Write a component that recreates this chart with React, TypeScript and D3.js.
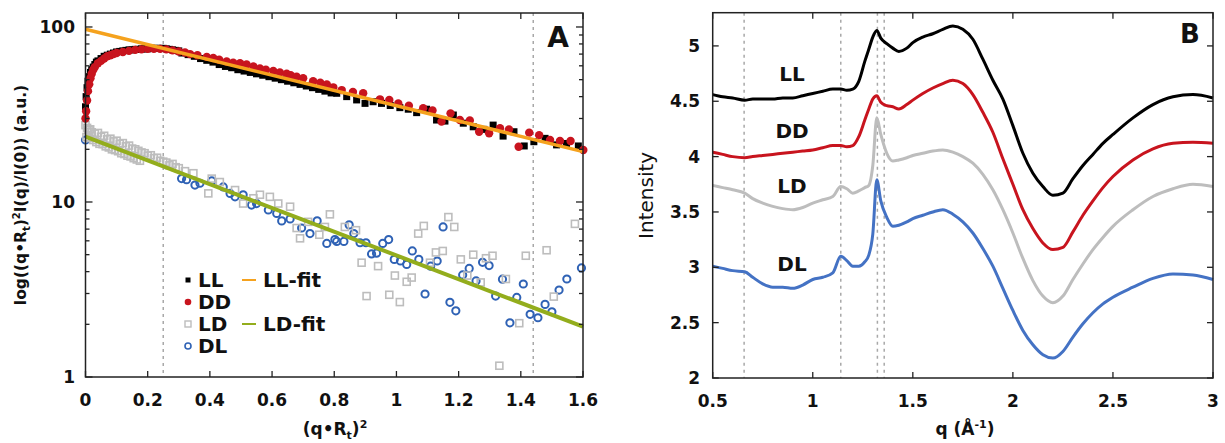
import React from 'react';
import * as d3 from 'd3';

// ---------- Panel A data ----------
const LL_x = [0,0.002,0.005,0.008,0.012,0.016,0.02,0.025,0.03,0.035,0.04,0.05,0.06,0.07,0.08,0.09,0.10,0.11,0.12,0.13,0.14,0.15,0.16,0.17,0.18,0.19,0.20,0.21,0.22,0.23,0.24,0.25,0.26,0.27,0.28,0.29,0.30,0.31,0.33,0.35,0.37,0.39,0.41,0.43,0.45,0.47,0.49,0.51,0.53,0.55,0.57,0.59,0.61,0.63,0.65,0.67,0.69,0.71,0.73,0.75,0.77,0.79,0.808,0.84,0.872,0.899,0.925,0.952,0.98,1.011,1.038,1.065,1.097,1.129,1.156,1.183,1.215,1.247,1.281,1.311,1.343,1.378,1.411,1.442,1.478,1.515,1.547,1.585];
const LL_y = [35,40,45,49,52,55,57,59,61,63,64,66,68,69,70,71,72,72.5,73,73.5,74,74,74.5,74.5,75,75,75,75.5,75.5,75.5,75.5,75.5,75,74.5,74,73.5,73,71,69.5,68,66,64.5,63,61,59.5,58.5,57,56,55,54,53,52,51,50,49,48,47,46,45,44,43,42,41.8,40,38.3,36.6,37.4,36.6,35.6,34.6,33.9,32.4,33.9,29.4,29.0,31.4,28.2,26.9,26.0,27.5,23.8,25.2,20.9,22.1,23.1,21.2,21.6,20.9];

const DD_x = [0,0.002,0.005,0.008,0.012,0.016,0.02,0.025,0.03,0.04,0.05,0.06,0.07,0.08,0.09,0.10,0.12,0.14,0.16,0.18,0.20,0.22,0.24,0.26,0.28,0.30,0.32,0.336,0.36,0.39,0.411,0.43,0.454,0.475,0.497,0.518,0.54,0.561,0.58,0.604,0.625,0.647,0.66,0.679,0.70,0.732,0.755,0.776,0.797,0.824,0.86,0.893,0.947,0.977,1.006,1.04,1.086,1.116,1.145,1.174,1.204,1.236,1.266,1.298,1.333,1.362,1.393,1.427,1.459,1.494,1.526,1.56,1.601];
const DD_y = [30,33,38,43,47,51,54,57,59,62,64,66,68,69,70,71,72,73,74,74.5,75,75,75,74.5,73.5,72.5,71.5,70,69,67.5,66.5,65,63.5,62.5,62,61,59.5,58,57,56,55,54,53,52,51,49,48,47,45.2,43.6,42.5,41.8,38.6,38.3,36.6,35.5,34.3,33.3,28.8,32.1,29.4,29.2,25.2,24.7,26.4,26.0,20.7,24.9,24.1,22.6,22.3,22.3,19.8];

const LD_x = [0,0.003,0.005,0.01,0.012,0.015,0.02,0.025,0.03,0.035,0.04,0.045,0.05,0.055,0.06,0.065,0.07,0.075,0.08,0.085,0.09,0.095,0.10,0.105,0.11,0.115,0.12,0.125,0.13,0.135,0.14,0.145,0.15,0.155,0.16,0.165,0.17,0.175,0.18,0.19,0.20,0.21,0.22,0.23,0.24,0.25,0.26,0.27,0.28,0.29,0.30,0.32,0.347,0.395,0.406,0.432,0.481,0.507,0.540,0.561,0.593,0.620,0.658,0.679,0.690,0.716,0.752,0.770,0.786,0.834,0.870,0.888,0.904,0.941,0.977,0.995,1.011,1.033,1.049,1.070,1.088,1.108,1.127,1.149,1.167,1.186,1.207,1.228,1.247,1.271,1.288,1.309,1.331,1.352,1.395,1.416,1.483,1.506,1.574];
const LD_y = [27.5,23.5,26.5,25.8,23.2,26.0,25.0,22.6,24.6,22.0,24.8,21.5,23.6,21.4,23.9,20.8,22.8,20.5,23.0,20.0,22.2,19.8,22.4,19.5,21.5,19.0,21.7,18.8,20.8,18.4,21.0,18.2,20.2,17.8,20.0,17.5,19.6,17.2,19.2,19.0,18.4,18.5,17.8,17.9,17.2,17.0,16.8,16.2,16.5,15.8,15.6,15.0,14.6,11.2,13.6,13.0,11.7,9.8,10.5,11.0,10.7,9.8,9.4,7.1,6.2,7.7,6.5,7.2,8.5,7.2,6.9,4.5,2.9,4.3,2.95,3.8,2.68,3.5,3.7,6.6,7.3,4.5,5.15,5.25,8.2,7.2,4.7,3.8,5.0,3.47,4.77,4.93,1.16,3.63,2.03,4.93,5.3,2.88,7.5];

const DL_x = [0,0.309,0.325,0.352,0.368,0.406,0.443,0.465,0.481,0.507,0.534,0.550,0.588,0.615,0.631,0.658,0.695,0.722,0.745,0.776,0.802,0.808,0.831,0.848,0.863,0.883,0.902,0.920,0.936,0.956,0.975,0.993,1.013,1.033,1.051,1.072,1.092,1.110,1.131,1.150,1.172,1.191,1.213,1.234,1.256,1.277,1.298,1.319,1.341,1.365,1.387,1.408,1.430,1.455,1.478,1.500,1.523,1.548,1.595];
const DL_y = [22.6,13.6,13.4,12.5,12.8,13.2,12.2,11.2,10.7,11.0,9.6,9.8,9.0,8.6,7.8,8.0,7.1,6.6,7.8,5.8,6.1,5.95,5.95,7.4,6.6,5.85,5.85,5.05,5.1,5.8,6.1,4.7,4.6,4.4,5.25,4.7,2.98,4.3,4.6,7.2,2.67,2.39,3.83,4.17,3.54,4.52,4.33,2.9,3.62,2.04,2.85,3.4,2.28,2.18,2.6,2.36,3.14,3.63,4.2];

const FIT_x = [0, 1.6];
const LLfit_y = [97, 19.4];
const LDfit_y = [23.6, 1.94];

const A_xTicks = [0, 0.2, 0.4, 0.6, 0.8, 1, 1.2, 1.4, 1.6];
const A_yTicks = [1, 10, 100];
const A_guides = [0.25, 1.44];

// ---------- Panel B data ----------
const q = [0.5,0.55,0.6,0.66,0.7,0.75,0.8,0.85,0.9,0.95,1.0,1.05,1.1,1.14,1.17,1.2,1.23,1.26,1.28,1.3,1.32,1.34,1.37,1.4,1.43,1.47,1.5,1.55,1.6,1.65,1.7,1.75,1.8,1.85,1.9,1.95,2.0,2.05,2.1,2.15,2.2,2.25,2.3,2.35,2.4,2.45,2.5,2.6,2.7,2.8,2.9,3.0];
const B_LL = [4.56,4.54,4.53,4.51,4.52,4.52,4.52,4.53,4.53,4.55,4.57,4.59,4.61,4.61,4.60,4.61,4.68,4.86,4.97,5.08,5.14,5.07,5.02,4.98,4.95,4.98,5.03,5.08,5.11,5.15,5.18,5.15,5.06,4.88,4.69,4.52,4.28,4.03,3.85,3.73,3.65,3.67,3.80,3.92,4.02,4.12,4.20,4.35,4.47,4.54,4.56,4.53];
const B_DD = [4.04,4.02,4.00,3.99,4.00,4.01,4.02,4.03,4.04,4.05,4.06,4.08,4.10,4.10,4.09,4.10,4.18,4.33,4.43,4.52,4.55,4.49,4.46,4.45,4.43,4.47,4.51,4.57,4.62,4.66,4.69,4.66,4.56,4.40,4.22,3.98,3.75,3.52,3.35,3.22,3.16,3.18,3.32,3.47,3.60,3.72,3.82,3.97,4.07,4.12,4.13,4.12];
const B_LD = [3.74,3.72,3.70,3.67,3.62,3.58,3.55,3.53,3.52,3.54,3.58,3.61,3.64,3.73,3.71,3.67,3.69,3.72,3.74,3.92,4.35,4.20,4.03,3.96,3.97,3.99,4.01,4.03,4.05,4.06,4.04,4.00,3.94,3.84,3.70,3.52,3.31,3.08,2.88,2.74,2.68,2.74,2.89,3.03,3.16,3.27,3.37,3.52,3.64,3.71,3.75,3.73];
const B_DL = [3.01,2.99,2.97,2.96,2.91,2.85,2.82,2.82,2.81,2.84,2.89,2.91,2.95,3.10,3.06,3.01,3.01,3.05,3.11,3.30,3.79,3.60,3.45,3.37,3.38,3.41,3.44,3.47,3.50,3.52,3.48,3.41,3.31,3.17,3.01,2.81,2.61,2.43,2.30,2.21,2.18,2.24,2.37,2.49,2.59,2.67,2.73,2.82,2.90,2.94,2.93,2.89];

const B_xTicks = [0.5, 1, 1.5, 2, 2.5, 3];
const B_yTicks = [2, 2.5, 3, 3.5, 4, 4.5, 5];
const B_guides = [0.657, 1.14, 1.323, 1.357];
const B_labels = ['LL', 'DD', 'LD', 'DL'];
const B_labelY = [4.75, 4.23, 3.73, 3.03];

const C_LL = '#000000';
const C_DD = '#c8141e';
const C_LD = '#bdbdbd';
const C_DL = '#2f62b5';
const C_BL = '#4472c4';
const C_LLfit = '#f5a21e';
const C_LDfit = '#93ad1c';

const FONT = 'DejaVu Sans';

export default function App() {
  const xA = d3.scaleLinear().domain([0, 1.6]).range([85.5, 583]);
  const yA = d3.scaleLog().domain([1, 120.2]).range([377, 13]);
  const xB = d3.scaleLinear().domain([0.5, 3]).range([712.7, 1213]);
  const yB = d3.scaleLinear().domain([2, 5.3]).range([378, 12.7]);

  const [ax0, ax1] = xA.range();
  const [ay0, ay1] = yA.range();
  const [bx0, bx1] = xB.range();
  const [by0, by1] = yB.range();

  const minorA = yA.ticks().filter(v => v >= 1 && v <= 120);
  const fitLine = d3.line<number>().x((_, i) => xA(FIT_x[i])).y(d => yA(d));
  const bLine = d3.line<number>().x((_, i) => xB(q[i])).y(d => yB(d)).curve(d3.curveMonotoneX);

  const tickStyle = { stroke: '#222', strokeWidth: 1.3 };
  const lblStyle: React.CSSProperties = { fontFamily: FONT, fontWeight: 'bold', fontSize: 17, fill: '#111' };

  return (
    <svg width={1225} height={443} style={{ position: 'absolute', left: 0, top: 0, background: '#fff' }}>
      {/* ================= Panel A ================= */}
      {A_guides.map(g => (
        <line key={'ga' + g} x1={xA(g)} x2={xA(g)} y1={ay1} y2={ay0} stroke="#a8a8a8" strokeWidth={1.5} strokeDasharray="3,4" />
      ))}
      {/* DL */}
      {DL_x.map((x, i) => (
        <circle key={'dl' + i} cx={xA(x)} cy={yA(DL_y[i])} r={3.6} fill="none" stroke={C_DL} strokeWidth={2} />
      ))}
      {/* LD */}
      {LD_x.map((x, i) => (
        <rect key={'ld' + i} x={xA(x) - 3.5} y={yA(LD_y[i]) - 3.5} width={7} height={7} fill="#fff" fillOpacity={0} stroke={C_LD} strokeWidth={1.6} />
      ))}
      {/* LL */}
      {LL_x.map((x, i) => (
        <rect key={'ll' + i} x={xA(x) - 3.5} y={yA(LL_y[i]) - 3.5} width={7} height={7} fill={C_LL} />
      ))}
      {/* DD */}
      {DD_x.map((x, i) => (
        <circle key={'dd' + i} cx={xA(x)} cy={yA(DD_y[i])} r={4.2} fill={C_DD} />
      ))}
      {/* fits */}
      <path d={fitLine(LLfit_y) || ''} stroke={C_LLfit} strokeWidth={3.5} fill="none" />
      <path d={fitLine(LDfit_y) || ''} stroke={C_LDfit} strokeWidth={4} fill="none" />

      {/* frame A */}
      <rect x={ax0} y={ay1} width={ax1 - ax0} height={ay0 - ay1} fill="none" stroke="#222" strokeWidth={1.5} />
      {A_xTicks.map(t => (
        <g key={'axt' + t}>
          <line x1={xA(t)} x2={xA(t)} y1={ay0} y2={ay0 - 6} style={tickStyle} />
          <line x1={xA(t)} x2={xA(t)} y1={ay1} y2={ay1 + 6} style={tickStyle} />
          <text x={xA(t)} y={406} textAnchor="middle" style={lblStyle}>{String(t)}</text>
        </g>
      ))}
      {minorA.map(t => {
        const major = A_yTicks.includes(t);
        const len = major ? 7 : 4;
        return (
          <g key={'ayt' + t}>
            <line x1={ax0} x2={ax0 + len} y1={yA(t)} y2={yA(t)} style={tickStyle} />
            <line x1={ax1} x2={ax1 - len} y1={yA(t)} y2={yA(t)} style={tickStyle} />
          </g>
        );
      })}
      {A_yTicks.map(t => (
        <text key={'ayl' + t} x={75} y={yA(t) + 6} textAnchor="end" style={lblStyle}>{String(t)}</text>
      ))}
      <text x={558} y={47} textAnchor="middle" style={{ fontFamily: FONT, fontWeight: 'bold', fontSize: 28, fill: '#111' }}>A</text>

      {/* legend A */}
      <g style={{ fontFamily: FONT, fontWeight: 'bold', fontSize: 20, fill: '#111' }}>
        <rect x={185.5} y={277.5} width={5} height={5} fill={C_LL} />
        <text x={198} y={287}>LL</text>
        <circle cx={188} cy={302} r={3.3} fill={C_DD} />
        <text x={198} y={309}>DD</text>
        <rect x={185} y={321} width={6} height={6} fill="none" stroke={C_LD} strokeWidth={1.4} />
        <text x={198} y={331}>LD</text>
        <circle cx={188} cy={346} r={3} fill="none" stroke={C_DL} strokeWidth={1.6} />
        <text x={198} y={353}>DL</text>
        <line x1={242} x2={256} y1={280} y2={280} stroke={C_LLfit} strokeWidth={2} />
        <text x={263} y={287}>LL-fit</text>
        <line x1={242} x2={256} y1={324} y2={324} stroke={C_LDfit} strokeWidth={2} />
        <text x={263} y={331}>LD-fit</text>
      </g>

      {/* axis labels A */}
      <text x={335} y={435} textAnchor="middle" style={{ fontFamily: FONT, fontWeight: 'bold', fontSize: 17, fill: '#111' }}>
        (q•R<tspan fontSize={11} dy={4}>t</tspan><tspan dy={-4}>)</tspan><tspan fontSize={11} dy={-7}>2</tspan>
      </text>
      <text transform={`translate(26,${(ay0 + ay1) / 2}) rotate(-90)`} textAnchor="middle" style={{ fontFamily: FONT, fontWeight: 'bold', fontSize: 15.5, fill: '#111' }}>
        log((q•R<tspan fontSize={10} dy={4}>t</tspan><tspan dy={-4}>)</tspan><tspan fontSize={10} dy={-6}>2</tspan><tspan dy={6}>I(q)/I(0)) (a.u.)</tspan>
      </text>

      {/* ================= Panel B ================= */}
      {B_guides.map(g => (
        <line key={'gb' + g} x1={xB(g)} x2={xB(g)} y1={by1} y2={by0} stroke="#a8a8a8" strokeWidth={1.5} strokeDasharray="3,4" />
      ))}
      <path d={bLine(B_LL) || ''} stroke={C_LL} strokeWidth={3} fill="none" />
      <path d={bLine(B_DD) || ''} stroke={C_DD} strokeWidth={3} fill="none" />
      <path d={bLine(B_LD) || ''} stroke={C_LD} strokeWidth={3} fill="none" />
      <path d={bLine(B_DL) || ''} stroke={C_BL} strokeWidth={3} fill="none" />

      <rect x={bx0} y={by1} width={bx1 - bx0} height={by0 - by1} fill="none" stroke="#222" strokeWidth={1.5} />
      {B_xTicks.map(t => (
        <g key={'bxt' + t}>
          <line x1={xB(t)} x2={xB(t)} y1={by0} y2={by0 - 6} style={tickStyle} />
          <line x1={xB(t)} x2={xB(t)} y1={by1} y2={by1 + 6} style={tickStyle} />
          <text x={xB(t)} y={407} textAnchor="middle" style={lblStyle}>{String(t)}</text>
        </g>
      ))}
      {B_yTicks.map(t => (
        <g key={'byt' + t}>
          <line x1={bx0} x2={bx0 + 6} y1={yB(t)} y2={yB(t)} style={tickStyle} />
          <line x1={bx1} x2={bx1 - 6} y1={yB(t)} y2={yB(t)} style={tickStyle} />
          <text x={700} y={yB(t) + 6} textAnchor="end" style={lblStyle}>{String(t)}</text>
        </g>
      ))}
      {B_labels.map((l, i) => (
        <text key={'bl' + l} x={792} y={yB(B_labelY[i]) + 7} textAnchor="middle" style={{ fontFamily: FONT, fontWeight: 'bold', fontSize: 20, fill: '#111' }}>{l}</text>
      ))}
      <text x={1190} y={43} textAnchor="middle" style={{ fontFamily: FONT, fontWeight: 'bold', fontSize: 26, fill: '#111' }}>B</text>
      <text transform={`translate(653,${(by0 + by1) / 2}) rotate(-90)`} textAnchor="middle" style={{ fontFamily: FONT, fontSize: 20, fill: '#111' }}>Intensity</text>
      <text x={965} y={435} textAnchor="middle" style={{ fontFamily: FONT, fontWeight: 'bold', fontSize: 17, fill: '#111' }}>
        q (Å<tspan fontSize={11} dy={-7}>-1</tspan><tspan dy={7}>)</tspan>
      </text>
    </svg>
  );
}
